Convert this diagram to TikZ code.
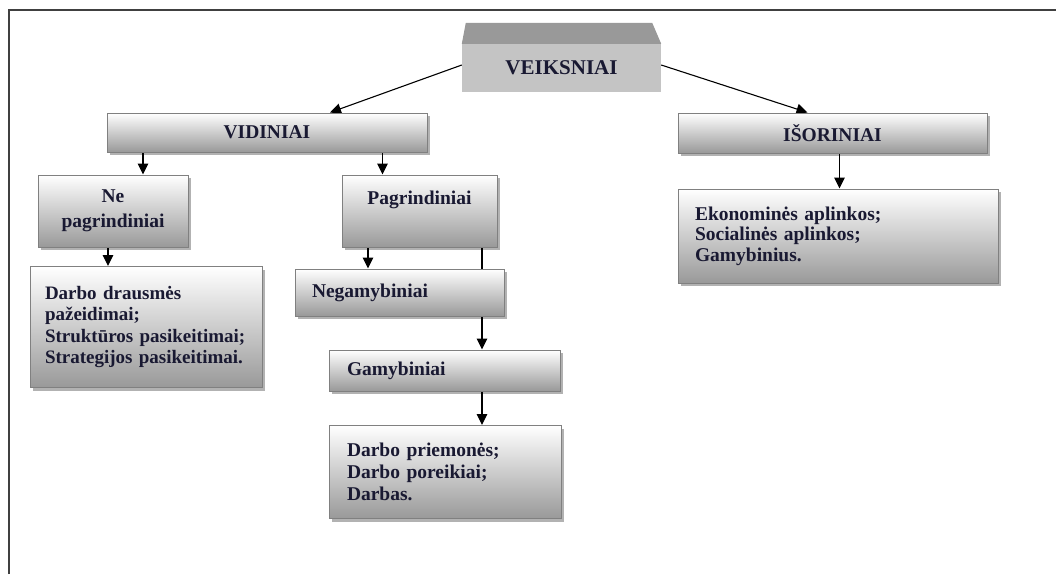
\documentclass[tikz,border=0pt]{standalone}
\usepackage{fontspec}
\setmainfont{Liberation Serif}
\usetikzlibrary{arrows.meta,shadows}

\definecolor{ink}{RGB}{25,25,50}
\definecolor{facegray}{RGB}{196,196,196}
\definecolor{topgray}{RGB}{153,153,153}
\definecolor{rimgray}{RGB}{128,128,128}

\pgfdeclarelayer{bg}
\pgfsetlayers{bg,main}

\begin{document}
\begin{tikzpicture}[
    x=1pt, y=-1pt,
    every node/.style={
        font=\fontsize{19.5}{22}\selectfont\bfseries,
        text=ink
    },
    box/.style={
        draw=rimgray,
        line width=1pt,
        top color=white,
        bottom color=black!40,
        inner sep=0pt,
        drop shadow={shadow xshift=3pt,shadow yshift=-3pt,
            opacity=.3,fill=black}
    },
    leftbox/.style={box,align=left},
    arr/.style={-{Triangle[length=11pt,width=10.5pt]},line width=1.1pt}
]

    \useasboundingbox (0,0) rectangle (1056,574);

    %------------------------------------------------
    % Frame
    %------------------------------------------------

    \draw[line width=1.6pt,black!75]
        (9,574)--(9,10)--(1056,10);

    %------------------------------------------------
    % Top block
    %------------------------------------------------

    \node[
        fill=facegray,
        minimum width=199,
        minimum height=48,
        inner sep=0pt,
        font=\fontsize{21}{24}\selectfont\bfseries
    ]
    (veik) at (561.5,68)
    {VEIKSNIAI};

    \fill[topgray]
        (veik.north west)
        --([shift={(4,-21)}]veik.north west)
        --([shift={(-9,-21)}]veik.north east)
        --(veik.north east)--cycle;

    %------------------------------------------------
    % Second level
    %------------------------------------------------

    \node[box,minimum width=320,minimum height=39]
    (vid) at (267,132.5)
    {VIDINIAI};

    \node[box,minimum width=309,minimum height=40]
    (isor) at (832.5,133)
    {IŠORINIAI};

    %------------------------------------------------
    % Vidiniai branch
    %------------------------------------------------

    \node[box,minimum width=150,minimum height=72,align=center]
    (ne) at (113,211)
    {Ne\\[3pt]pagrindiniai};

    \node[box,minimum width=155,text height=29pt,text depth=43pt]
    (pag) at (419.5,211)
    {Pagrindiniai};

    \node[
        leftbox,
        minimum width=232,
        minimum height=121,
        text width=202,
        font=\fontsize{19}{21.5}\selectfont\bfseries
    ]
    (darbo) at (146,327)
    {Darbo drausmės\\pažeidimai;\\Struktūros pasikeitimai;\\Strategijos pasikeitimai.};

    \node[leftbox,minimum width=209,minimum height=47,text width=175]
    (neg) at (399.5,292.5)
    {Negamybiniai};

    \node[leftbox,minimum width=231,minimum height=41,text width=195]
    (gam) at (444.5,370.5)
    {Gamybiniai};

    \node[leftbox,minimum width=232,minimum height=93,text width=196]
    (prie) at (445,472)
    {Darbo priemonės;\\Darbo poreikiai;\\Darbas.};

    %------------------------------------------------
    % Isoriniai branch
    %------------------------------------------------

    \node[
        leftbox,
        minimum width=320,
        minimum height=94,
        text width=286,
        font=\fontsize{19.5}{20.5}\selectfont\bfseries
    ]
    (econ) at (838,236)
    {Ekonominės aplinkos;\\Socialinės aplinkos;\\Gamybinius.};

    %------------------------------------------------
    % Arrows
    %------------------------------------------------

    \begin{pgfonlayer}{bg}
        \draw[arr]
            ([yshift=3pt]veik.west)--([xshift=63pt]vid.north);
        \draw[arr]
            ([yshift=3pt]veik.east)--([xshift=-25pt]isor.north);
        \draw[arr]
            ([xshift=30pt]ne.north |- vid.south)--([xshift=30pt]ne.north);
        \draw[arr]
            ([xshift=-37pt]pag.north |- vid.south)--([xshift=-37pt]pag.north);
        \draw[arr]
            ([xshift=-5pt]ne.south)--([xshift=-5pt]ne.south |- darbo.north);
        \draw[arr]
            ([xshift=-51.5pt]pag.south)--([xshift=-51.5pt]pag.south |- neg.north);
        \draw[arr]
            ([xshift=62.5pt]pag.south)--([xshift=62.5pt]pag.south |- gam.north);
        \draw[arr]
            ([xshift=37.5pt]gam.south)--([xshift=37.5pt]gam.south |- prie.north);
        \draw[arr]
            ([xshift=7pt]isor.south)--([xshift=7pt]isor.south |- econ.north);
    \end{pgfonlayer}

\end{tikzpicture}
\end{document}
